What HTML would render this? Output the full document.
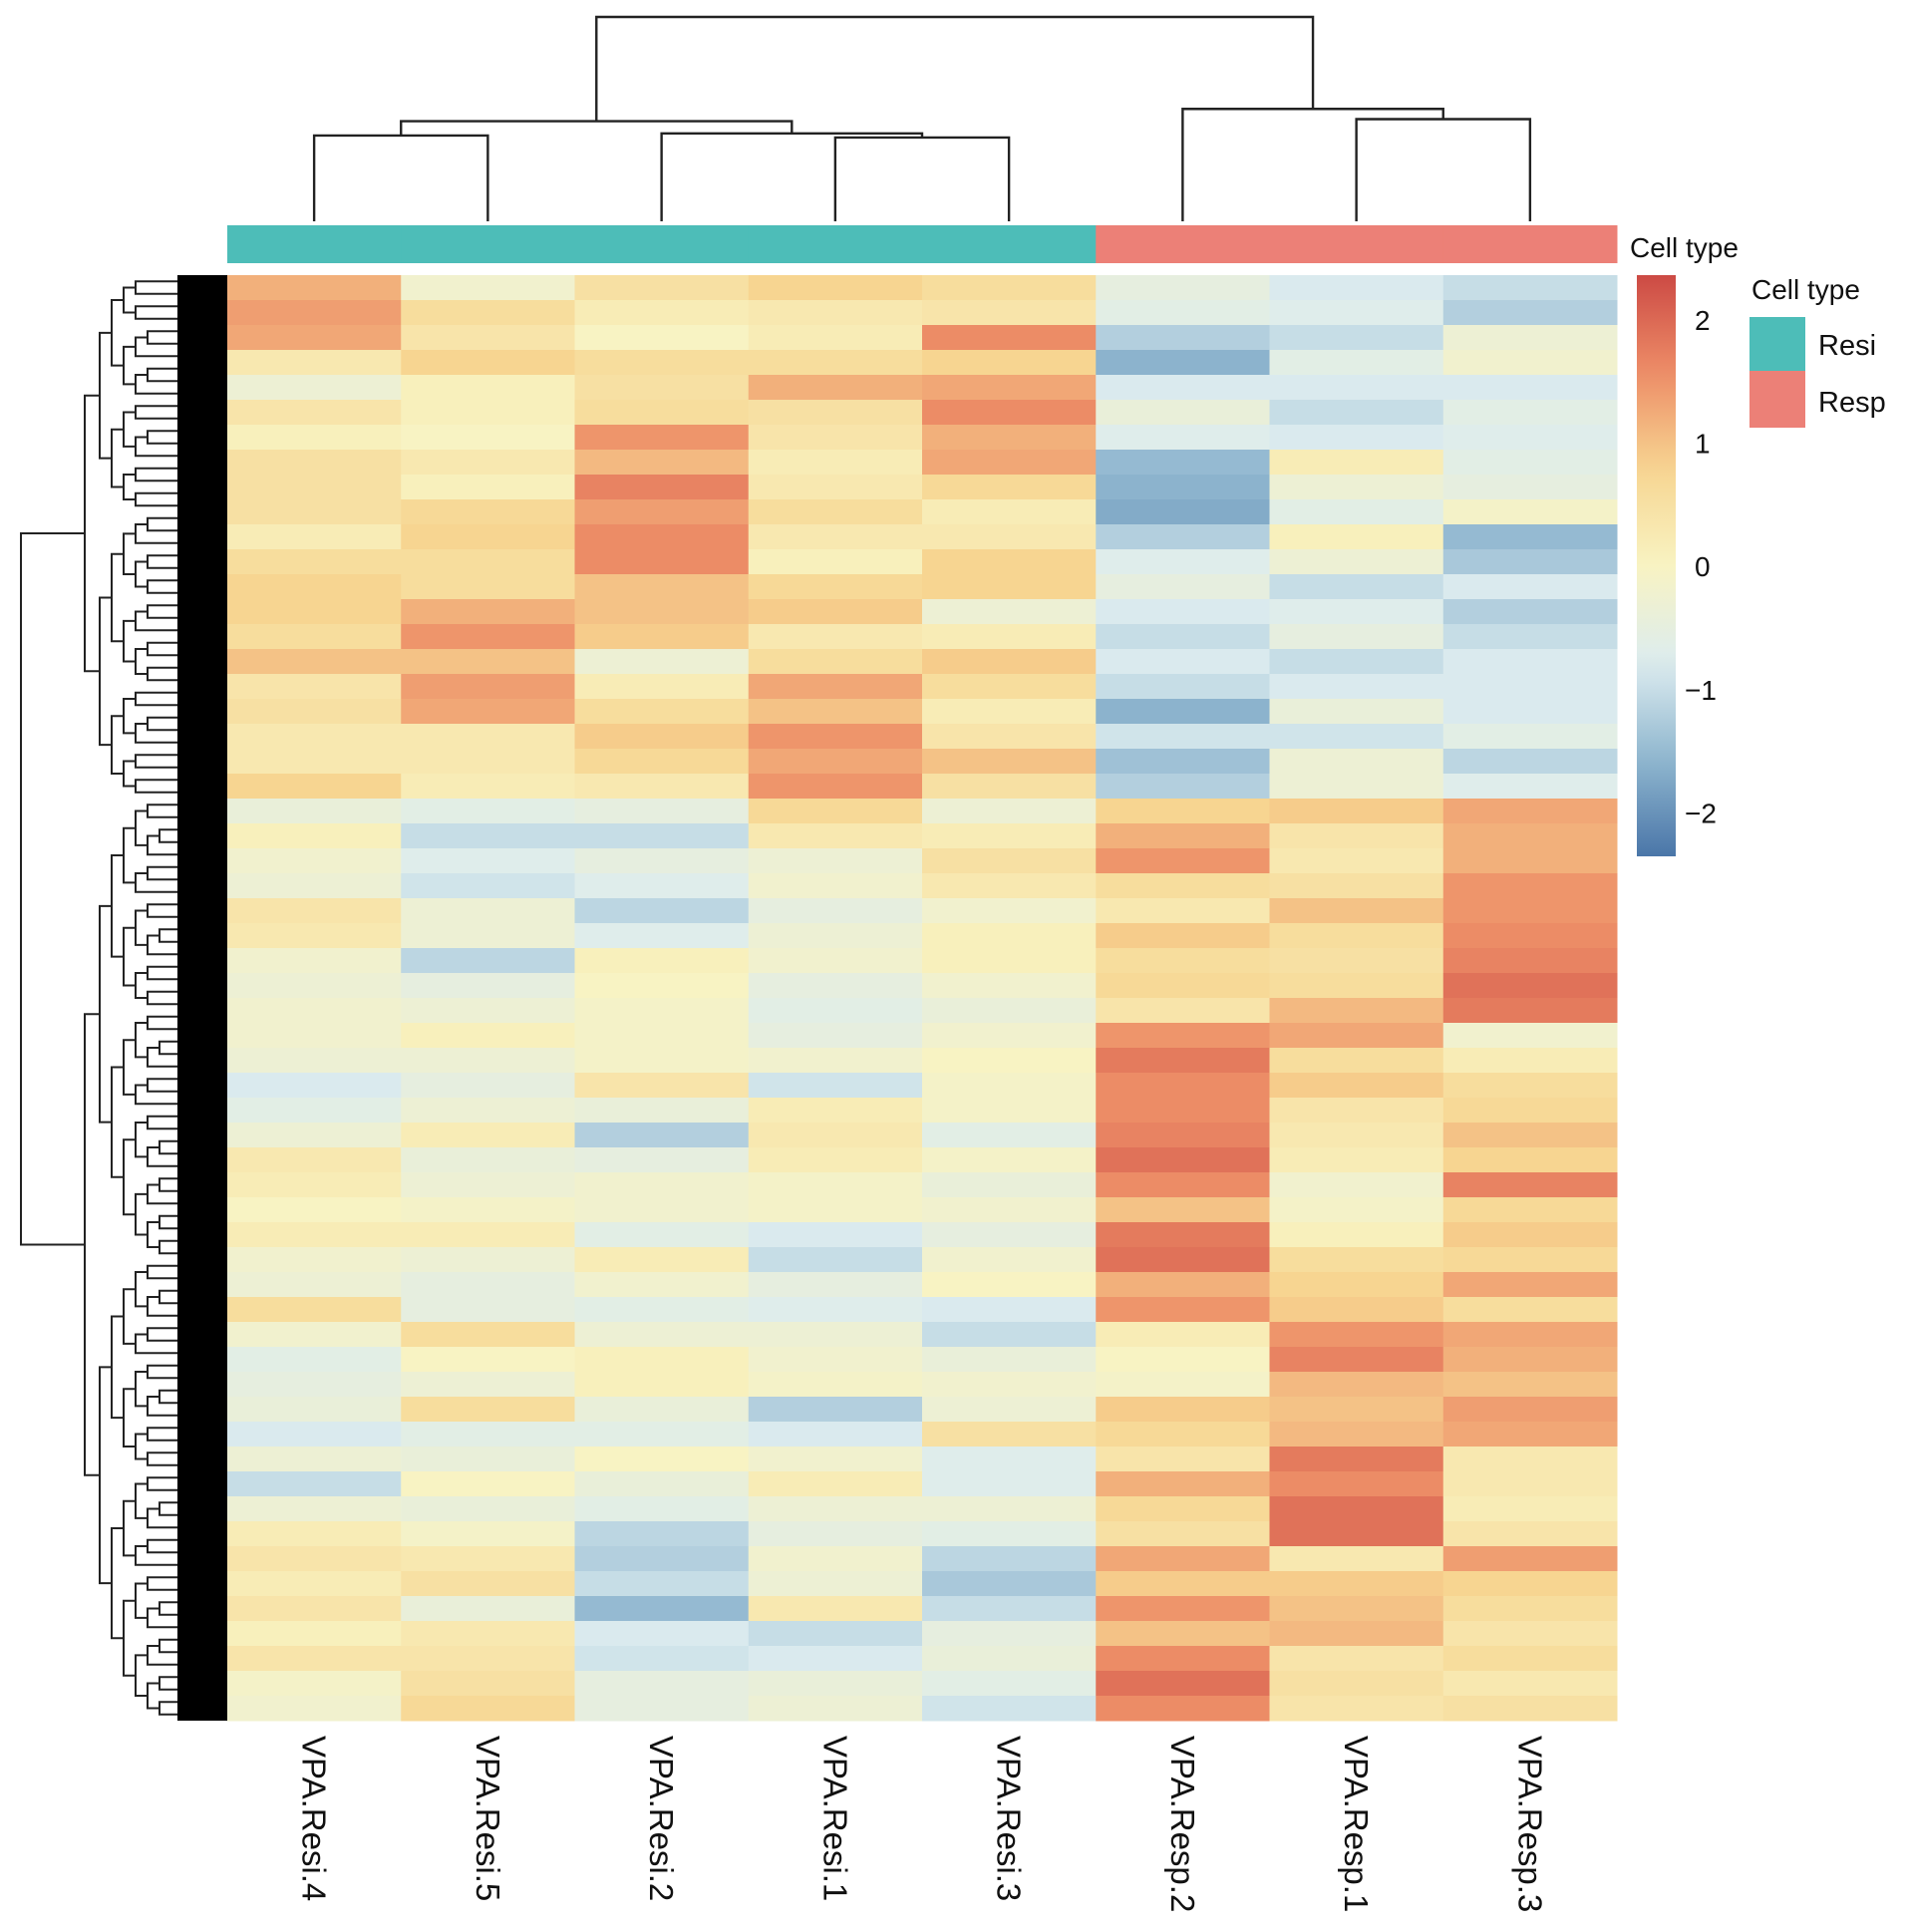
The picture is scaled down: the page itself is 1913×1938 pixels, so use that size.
<!DOCTYPE html>
<html><head><meta charset="utf-8"><style>
html,body{margin:0;padding:0;background:#fff;}
svg{display:block;font-family:"Liberation Sans",Arial,sans-serif;}
</style></head><body>
<svg id="chart" width="1913" height="1938" viewBox="0 0 1913 1938">
<g id="rowdend"></g>
<g id="coldend"></g>
<g id="annot"></g>
<g id="cells"></g>
<g id="xlabels"></g>
<text x="1635" y="258" font-size="28" fill="#111">Cell type</text>
<defs><linearGradient id="cbgrad" x1="0" y1="1" x2="0" y2="0"></linearGradient></defs>
<g id="colorbar"></g>
<g>
<text x="1757" y="300" font-size="28" fill="#111">Cell type</text>
<rect x="1755" y="318" width="56" height="54" fill="#4dbdb8"/>
<rect x="1755" y="372" width="56" height="57" fill="#ec8077"/>
<text x="1824" y="356" font-size="29" fill="#111">Resi</text>
<text x="1824" y="413" font-size="29" fill="#111">Resp</text>
</g>
</svg>
<script>
const columns = ["VPA.Resi.4","VPA.Resi.5","VPA.Resi.2","VPA.Resi.1","VPA.Resi.3","VPA.Resp.2","VPA.Resp.1","VPA.Resp.3"];
const cellTypes = ["Resi","Resi","Resi","Resi","Resi","Resp","Resp","Resp"];
const colorTicks = [2,1,0,-1,-2];
const rows = [
[1.2,-0.2,0.5,0.8,0.6,-0.5,-0.8,-1.0],
[1.4,0.6,0.2,0.3,0.4,-0.6,-0.7,-1.2],
[1.3,0.4,0.0,0.2,1.6,-1.2,-1.0,-0.3],
[0.3,0.8,0.6,0.6,0.8,-1.6,-0.6,-0.2],
[-0.3,0.1,0.5,1.2,1.3,-0.8,-0.8,-0.8],
[0.4,0.1,0.6,0.5,1.6,-0.4,-1.0,-0.6],
[0.1,0.0,1.5,0.4,1.2,-0.7,-0.8,-0.7],
[0.5,0.3,1.1,0.2,1.3,-1.5,0.2,-0.6],
[0.5,0.1,1.7,0.3,0.7,-1.6,-0.3,-0.5],
[0.5,0.7,1.4,0.6,0.2,-1.7,-0.6,-0.1],
[0.2,0.8,1.6,0.3,0.3,-1.2,0.1,-1.5],
[0.6,0.6,1.6,0.1,0.8,-0.7,-0.3,-1.3],
[0.8,0.6,1.0,0.7,0.8,-0.5,-1.0,-0.8],
[0.8,1.2,1.0,0.9,-0.3,-0.8,-0.7,-1.2],
[0.6,1.5,0.9,0.3,0.2,-1.0,-0.5,-1.0],
[1.0,1.0,-0.3,0.6,0.9,-0.8,-1.0,-0.8],
[0.4,1.4,0.2,1.3,0.6,-1.0,-0.8,-0.8],
[0.5,1.3,0.6,1.0,0.2,-1.6,-0.4,-0.8],
[0.3,0.3,0.9,1.5,0.4,-0.9,-0.9,-0.6],
[0.3,0.3,0.7,1.3,1.0,-1.4,-0.3,-1.1],
[0.8,0.2,0.3,1.5,0.5,-1.2,-0.3,-0.7],
[-0.4,-0.6,-0.5,0.7,-0.3,0.8,0.9,1.3],
[0.1,-1.0,-1.0,0.3,0.2,1.2,0.4,1.2],
[-0.2,-0.7,-0.5,-0.3,0.5,1.5,0.3,1.2],
[-0.3,-0.9,-0.7,-0.2,0.3,0.6,0.5,1.5],
[0.4,-0.3,-1.1,-0.5,-0.2,0.3,1.0,1.5],
[0.3,-0.3,-0.7,-0.3,0.1,0.9,0.6,1.6],
[-0.2,-1.1,0.1,-0.2,0.1,0.6,0.5,1.7],
[-0.3,-0.5,0.0,-0.5,-0.2,0.7,0.6,1.9],
[-0.2,-0.3,-0.1,-0.6,-0.4,0.4,1.1,1.8],
[-0.2,0.1,-0.1,-0.5,-0.2,1.5,1.3,-0.2],
[-0.3,-0.3,-0.1,-0.2,0.0,1.8,0.6,0.2],
[-0.8,-0.5,0.4,-0.9,-0.1,1.6,0.9,0.6],
[-0.6,-0.3,-0.4,0.2,-0.1,1.6,0.4,0.7],
[-0.3,0.2,-1.2,0.3,-0.6,1.7,0.3,1.0],
[0.3,-0.4,-0.5,0.2,-0.1,1.9,0.2,0.8],
[0.2,-0.3,-0.2,-0.1,-0.4,1.6,-0.2,1.7],
[0.0,-0.1,-0.2,-0.1,-0.2,1.0,-0.1,0.7],
[0.2,0.2,-0.6,-0.8,-0.5,1.8,0.1,0.9],
[-0.2,-0.3,0.2,-1.0,-0.2,1.9,0.6,0.7],
[-0.3,-0.5,-0.2,-0.5,0.0,1.2,0.8,1.3],
[0.6,-0.5,-0.6,-0.7,-0.8,1.5,0.9,0.6],
[-0.2,0.6,-0.3,-0.3,-1.0,0.2,1.5,1.3],
[-0.6,0.0,0.1,-0.2,-0.4,0.0,1.7,1.2],
[-0.5,-0.3,0.1,-0.1,-0.2,-0.1,1.1,1.0],
[-0.4,0.6,-0.4,-1.2,-0.3,0.9,1.0,1.4],
[-0.8,-0.6,-0.6,-0.8,0.5,0.7,1.1,1.3],
[-0.3,-0.4,0.0,-0.2,-0.7,0.4,1.8,0.3],
[-1.0,0.0,-0.4,0.2,-0.7,1.2,1.6,0.3],
[-0.3,-0.4,-0.6,-0.3,-0.3,0.7,1.9,0.2],
[0.2,-0.1,-1.1,-0.5,-0.6,0.5,1.9,0.4],
[0.4,0.3,-1.2,-0.2,-1.1,1.3,0.3,1.4],
[0.2,0.5,-1.0,-0.3,-1.3,0.9,0.9,0.8],
[0.4,-0.4,-1.5,0.3,-1.0,1.5,1.0,0.6],
[0.1,0.3,-0.8,-1.0,-0.5,1.0,1.1,0.4],
[0.4,0.4,-0.9,-0.8,-0.4,1.6,0.4,0.6],
[-0.1,0.5,-0.5,-0.4,-0.6,1.9,0.5,0.3],
[-0.2,0.7,-0.5,-0.3,-0.9,1.6,0.4,0.5]
];
// column dendrogram merges: [childA, childB, height (0..1 of tree height)]
const colMerges = [[0,1,0.42],[3,4,0.41],[2,9,0.43],[8,10,0.49],[6,7,0.50],[5,12,0.55],[11,13,1.0]];

const NS="http://www.w3.org/2000/svg";
const HX0=228, HX1=1622, HY0=276, HY1=1726;
const VMIN=-2.35, VMAX=2.37;
const stops=["#4a76a8","#8fb6cf","#dcecef","#f8f3c2","#f7d591","#ed8d67","#cc4a44"];
function hex(h){return [parseInt(h.substr(1,2),16),parseInt(h.substr(3,2),16),parseInt(h.substr(5,2),16)];}
function color(v){
  let t=(v-VMIN)/(VMAX-VMIN); t=Math.max(0,Math.min(1,t));
  const p=t*(stops.length-1), i=Math.min(stops.length-2,Math.floor(p)), f=p-i;
  const a=hex(stops[i]), b=hex(stops[i+1]);
  return "rgb("+a.map((c,k)=>Math.round(c+(b[k]-c)*f)).join(",")+")";
}
const colW=(HX1-HX0)/columns.length;
function xCol(i){return HX0+i*colW;}
function yRow(i){return HY0+i*(HY1-HY0)/rows.length;}
function mk(tag,attrs,parent){const e=document.createElementNS(NS,tag);for(const k in attrs)e.setAttribute(k,attrs[k]);parent.appendChild(e);return e;}

const cells=document.getElementById('cells');
const rh=(HY1-HY0)/rows.length;
rows.forEach((r,ri)=>r.forEach((v,ci)=>{
  const e=mk('rect',{x:xCol(ci),y:yRow(ri),width:colW+0.5,height:rh+0.5,fill:color(v)},cells);
  
  
}));

const annot=document.getElementById('annot');
cellTypes.forEach((t,ci)=>{
  const e=mk('rect',{x:xCol(ci),y:226,width:colW+0.5,height:38,fill:t==="Resi"?"#4dbdb8":"#ec8077"},annot);
  
  
});

const xl=document.getElementById('xlabels');
columns.forEach((c,ci)=>{
  const cx=xCol(ci)+colW/2;
  const e=mk('text',{x:0,y:0,transform:"translate("+cx+",1741) rotate(90)","font-size":33,fill:"#111","dominant-baseline":"central"},xl);
  e.textContent=c;
  
  
});

const cd=document.getElementById('coldend');
const YB=222, YT=17;
const nodeX=[], nodeY=[];
columns.forEach((c,i)=>{nodeX.push(xCol(i)+colW/2);nodeY.push(YB);});
colMerges.forEach(m=>{
  const [a,b,h]=m; const y=YB-(YB-YT)*h;
  const p=mk('path',{d:"M"+nodeX[a]+","+nodeY[a]+"V"+y+"H"+nodeX[b]+"V"+nodeY[b],fill:"none",stroke:"#222","stroke-width":2.4},cd);
  
  
  nodeX.push((nodeX[a]+nodeX[b])/2); nodeY.push(y);
});

const rd=document.getElementById('rowdend');
const NL=rows.length*2, lh=(HY1-HY0)/NL;
const depthX=[21,85,100,112,124,136,148,160,170,180,190,200];
let dpath="";
function tree(lo,hi,d){
  if(hi-lo===1){return HY0+(lo+0.5)*lh;}
  let mid = d===0 ? 42 : lo+Math.max(1,Math.round((hi-lo)*(((lo*7+hi*3)%5)/20+0.4)));
  if(mid>=hi) mid=hi-1;
  const y1=tree(lo,mid,d+1), y2=tree(mid,hi,d+1);
  const x=depthX[Math.min(d,depthX.length-1)];
  const cx1 = (mid-lo===1)?228:depthX[Math.min(d+1,depthX.length-1)];
  const cx2 = (hi-mid===1)?228:depthX[Math.min(d+1,depthX.length-1)];
  dpath+="M"+cx1+","+y1+"H"+x+"V"+y2+"H"+cx2;
  return (y1+y2)/2;
}
tree(0,NL,0);
const rp=mk('path',{d:dpath,fill:"none",stroke:"#222","stroke-width":2},rd);


const mass=mk('rect',{x:178,y:HY0,width:50,height:HY1-HY0,fill:"#000"},rd);



const grad=document.getElementById('cbgrad');
for(let i=0;i<=20;i++){const v=VMIN+(VMAX-VMIN)*i/20;mk('stop',{offset:(i/20),"stop-color":color(v)},grad);}
const cb=document.getElementById('colorbar');
const CBY0=276, CBY1=859;
const cbr=mk('rect',{x:1642,y:CBY0,width:39,height:CBY1-CBY0,fill:"url(#cbgrad)"},cb);


function yCb(v){return CBY1-(v-VMIN)/(VMAX-VMIN)*(CBY1-CBY0);}
colorTicks.forEach(t=>{
  const e=mk('text',{x:t<0?1690:1700,y:yCb(t),"font-size":28,fill:"#111","dominant-baseline":"central"},cb);
  e.textContent=(t<0?"\u2212"+Math.abs(t):String(t));
  
  
});
</script>
</body></html>
